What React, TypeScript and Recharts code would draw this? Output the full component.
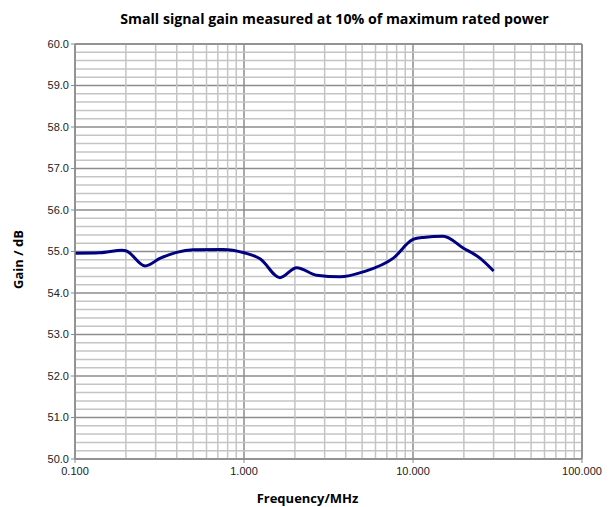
import { LineChart, Line, XAxis, YAxis, CartesianGrid, ReferenceLine, Label } from 'recharts';

// frequency in MHz, gain in dB
const freqMHz = [0.1, 0.14, 0.19, 0.2, 0.26, 0.32, 0.4, 0.5, 0.75, 1.0, 1.25, 1.63, 2.05, 2.69, 3.7, 5.08, 7.65, 10.0, 11.5, 15.1, 19.9, 24.9, 30.0];
const gainDb = [54.96, 54.97, 55.03, 55.02, 54.65, 54.84, 54.98, 55.04, 55.05, 54.97, 54.82, 54.37, 54.61, 54.43, 54.39, 54.51, 54.84, 55.29, 55.34, 55.37, 55.08, 54.84, 54.53];

const xTicks = [0.1, 1, 10, 100];
const yTicks = [50, 51, 52, 53, 54, 55, 56, 57, 58, 59, 60];
const xMinor = [0.2, 0.3, 0.4, 0.5, 0.6, 0.7, 0.8, 0.9, 2, 3, 4, 5, 6, 7, 8, 9, 20, 30, 40, 50, 60, 70, 80, 90];
const yMinor = yTicks.slice(0, -1).flatMap((v) => [0.2, 0.4, 0.6, 0.8].map((d) => +(v + d).toFixed(1)));

const data = freqMHz.map((f, i) => ({ f, gain: gainDb[i] }));

const font = 'Liberation Sans, Arial, sans-serif';
const boldFont = '"Open Sans", "Liberation Sans", sans-serif';
const minorColor = '#c4c4c4';
const majorColor = '#8c8c8c';

export default function App() {
  return (
    <div style={{ position: 'absolute', left: 0, top: 0, width: 611, height: 507, background: '#fff', fontFamily: font }}>
      <div style={{ position: 'absolute', top: 9, left: 29, width: 611, textAlign: 'center', fontSize: 14.2, fontWeight: 'bold', color: '#000', fontFamily: boldFont }}>
        Small signal gain measured at 10% of maximum rated power
      </div>
      <LineChart width={611} height={507} data={data} margin={{ top: 44, right: 29, left: 0, bottom: 0 }}>
        {xMinor.map((x) => (
          <ReferenceLine key={'x' + x} x={x} stroke={minorColor} strokeWidth={1.5} />
        ))}
        {yMinor.map((y) => (
          <ReferenceLine key={'y' + y} y={y} stroke={minorColor} strokeWidth={1.5} />
        ))}
        <CartesianGrid stroke={majorColor} strokeWidth={1.5} />
        <ReferenceLine y={60} stroke={majorColor} strokeWidth={1.5} />
        <ReferenceLine x={100} stroke={majorColor} strokeWidth={1.5} />
        <XAxis
          dataKey="f"
          type="number"
          scale="log"
          domain={[0.1, 100]}
          ticks={xTicks}
          allowDataOverflow
          height={48}
          tickFormatter={(v: number) => v.toFixed(3)}
          tick={{ fill: '#222', fontSize: 11, fontFamily: font, dy: 2 }}
          axisLine={{ stroke: majorColor, strokeWidth: 1.5 }}
          tickLine={{ stroke: majorColor }}
          tickSize={4}
        >
          <Label value="Frequency/MHz" position="insideBottom" offset={4} dx={-21} style={{ fontWeight: 'bold', fontSize: 13, fill: '#000', fontFamily: boldFont }} />
        </XAxis>
        <YAxis
          type="number"
          domain={[50, 60]}
          ticks={yTicks}
          width={75}
          tickFormatter={(v: number) => v.toFixed(1)}
          tick={{ fill: '#222', fontSize: 11, fontFamily: font }}
          axisLine={{ stroke: majorColor, strokeWidth: 1.5 }}
          tickLine={{ stroke: majorColor }}
          tickSize={4}
        >
          <Label value="Gain / dB" angle={-90} position="insideLeft" offset={18} dy={8} style={{ fontWeight: 'bold', fontSize: 13, fill: '#000', fontFamily: boldFont, textAnchor: 'middle' }} />
        </YAxis>
        <Line
          type="monotone"
          dataKey="gain"
          stroke="#000080"
          strokeWidth={3}
          dot={false}
          isAnimationActive={false}
        />
      </LineChart>
    </div>
  );
}
